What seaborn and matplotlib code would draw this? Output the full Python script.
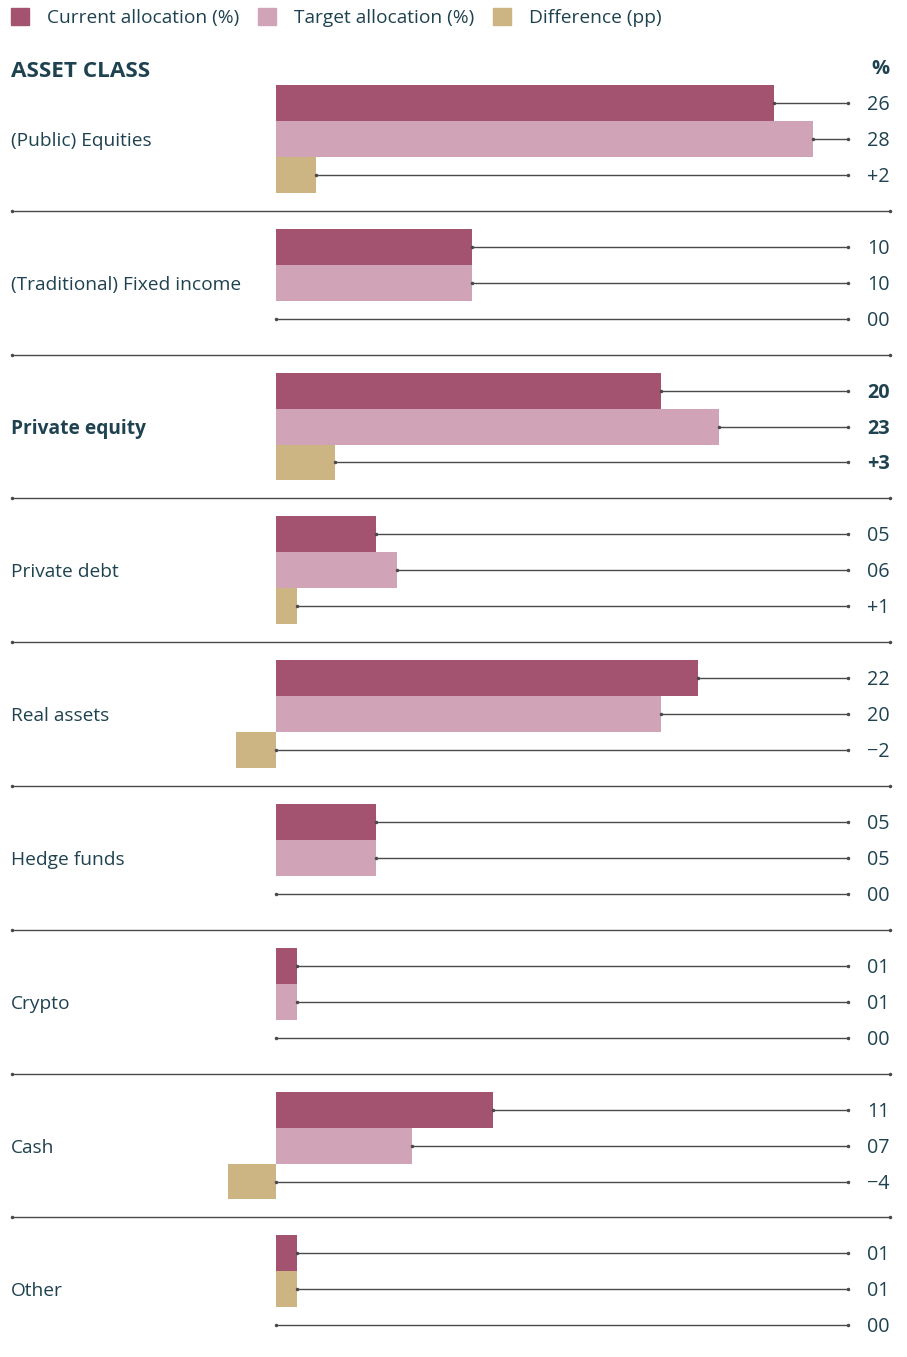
import pandas as pd
import numpy as np
import matplotlib.pyplot as plt
from matplotlib.patches import Patch
import seaborn as sns

# data (bar lengths)
asset_classes = ["(Public) Equities", "(Traditional) Fixed income", "Private equity",
                 "Private debt", "Real assets", "Hedge funds", "Crypto", "Cash", "Other"]
current = [26, 10.2, 20.1, 5.2, 22, 5.2, 1.1, 11.3, 1.1]
target = [28, 10.2, 23.1, 6.3, 20.1, 5.2, 1.1, 7.1, 1.1]
difference = [2.1, 0, 3.1, 1.1, -2.1, 0, 0, -2.5, 0]
current_labels = ["26", "10", "20", "05", "22", "05", "01", "11", "01"]
target_labels = ["28", "10", "23", "06", "20", "05", "01", "07", "01"]
diff_labels = ["+2", "00", "+3", "+1", "\u22122", "00", "00", "\u22124", "00"]
highlight = "Private equity"

series_names = ["Current allocation (%)", "Target allocation (%)", "Difference (pp)"]
colours = {"current": "#a35270", "target": "#d0a4b6", "diff": "#ccb583"}
text_col = "#1f4250"
line_col = "#4a4a4a"

# long table, one row per bar; 4 slots per group (3 bars + separator gap)
rows = []
for g, name in enumerate(asset_classes):
    for k, (key, vals, labs) in enumerate([("current", current, current_labels),
                                           ("target", target, target_labels),
                                           ("diff", difference, diff_labels)]):
        colour_key = key
        if name == "Other" and key == "target":
            colour_key = "diff"  # the original draws this bar in tan
        rows.append({"asset": name, "series": key, "colour_key": colour_key,
                     "value": vals[g], "label": labs[g], "row": g * 4 + k})
df = pd.DataFrame(rows)

sns.set_style("white")
plt.rcParams["font.family"] = ["Open Sans", "DejaVu Sans"]

fig = plt.figure(figsize=(9.07, 13.57), dpi=100)
ax = fig.add_axes([0, 0, 1, 1])

sns.barplot(data=df, x="value", y="row", hue="colour_key", palette=colours,
            orient="h", native_scale=True, dodge=False, width=1.0,
            errorbar=None, legend=False, saturation=1, linewidth=0, ax=ax)

px = 19.17          # pixels per percentage point
x0 = 276            # pixel of zero
row_px = 35.95      # pixels per row
row0 = 103          # pixel of first row centre
ax.set_xlim(-x0 / px, (907 - x0) / px)
ax.set_ylim((1357 - row0) / row_px, -row0 / row_px)
ax.axis("off")

x_line_end = (848 - x0) / px
x_num = (890 - x0) / px
x_left = (11 - x0) / px
dy = 2 / row_px     # small text nudge downwards

for _, r in df.iterrows():
    start = max(r["value"], 0)
    ax.plot([start, x_line_end], [r["row"], r["row"]], color=line_col, lw=1.0,
            marker=".", markersize=3, zorder=3)
    bold = r["asset"] == highlight
    ax.text(x_num, r["row"] + dy, r["label"], ha="right", va="center", fontsize=14.2,
            color=text_col, fontweight="bold" if bold else "normal")

for g, name in enumerate(asset_classes):
    ax.text(x_left, g * 4 + 1 + dy, name, ha="left", va="center", fontsize=13.8,
            color=text_col, fontweight="bold" if name == highlight else "normal")
    if g < len(asset_classes) - 1:
        ax.plot([(12 - x0) / px, x_num], [g * 4 + 3, g * 4 + 3], color=line_col,
                lw=1.0, marker=".", markersize=3)

ax.text(x_left, (72 - row0) / row_px, "ASSET CLASS", ha="left", va="center",
        fontsize=16.2, fontweight="bold", color=text_col)
ax.text(x_num, (69 - row0) / row_px, "%", ha="right", va="center",
        fontsize=14.5, fontweight="bold", color=text_col)

handles = [Patch(color=colours[k]) for k in ["current", "target", "diff"]]
ax.legend(handles, series_names, loc="upper left",
          bbox_to_anchor=(11 / 907, 1 - 8 / 1357), borderaxespad=0, borderpad=0,
          ncol=3, frameon=False, fontsize=13.8, handlelength=0.95, handleheight=0.95,
          handletextpad=0.95, columnspacing=0.95, labelcolor=text_col)

fig.savefig("out.png", dpi=100)
